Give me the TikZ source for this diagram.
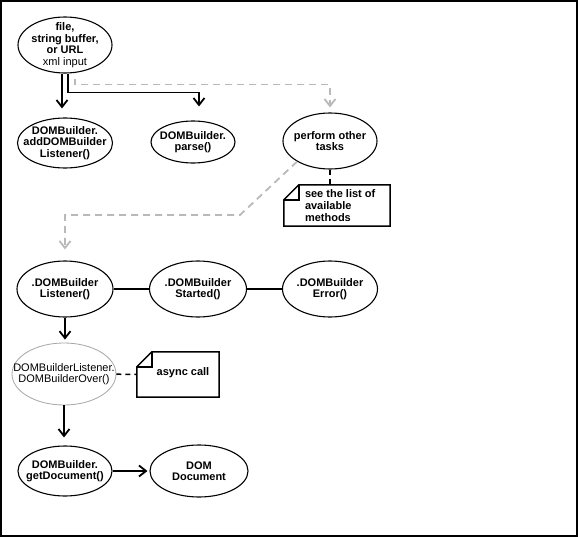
\documentclass[tikz,border=0pt]{standalone}
\usepackage{fontspec}
\setmainfont{Liberation Sans}
\usetikzlibrary{shapes.geometric,arrows.meta}

\begin{document}
\begin{tikzpicture}[x=1pt,y=-1pt,>={Straight Barb[length=7pt,width=11pt]},
  main node/.style={ellipse,draw,line width=1.1pt,inner sep=0pt},
  node text/.style={inner sep=0pt,align=center,font=\bfseries\fontsize{11}{11.5}\selectfont},
  note node/.style={inner sep=0pt},
  note text/.style={inner sep=0pt,align=left,font=\bfseries\fontsize{11}{12}\selectfont}]
\tikzstyle{flow edge} = [draw,line width=1.8pt,->]
\tikzstyle{other edge} = [draw,line width=1.8pt,->,gray!55,dash pattern=on 7pt off 5pt]
\tikzstyle{note edge} = [draw,line width=1.5pt]

\useasboundingbox (0,0) rectangle (579,538);
\draw[line width=1.6pt] (1,1) rectangle (577,536);

\node[main node,minimum width=94pt,minimum height=56pt,
  label={[node text]center:{file,\\string buffer,\\or URL\\{\mdseries xml input}}}] (input) at (65,45) {};

\node[main node,minimum width=95pt,minimum height=50pt,
  label={[node text]center:{DOMBuilder.\\addDOMBuilder\\Listener()}}] (addlistener) at (65,143) {};
\node[main node,minimum width=84pt,minimum height=42pt,
  label={[node text]center:{DOMBuilder.\\parse()}}] (parse) at (193,142) {};
\node[main node,minimum width=94pt,minimum height=56pt,
  label={[node text]center:{perform other\\tasks}}] (perform) at (330,141) {};

% note
\node[note node,minimum width=106pt,minimum height=41pt] (listnote) at (337,205.5) {};
\draw[note edge] ([xshift=15pt]listnote.north west) -- (listnote.north east) -- (listnote.south east)
  -- (listnote.south west) -- ([yshift=-15pt]listnote.north west) -- cycle;
\draw[note edge] ([yshift=-15pt]listnote.north west) -- ([shift={(15pt,-15pt)}]listnote.north west)
  -- ([xshift=15pt]listnote.north west);
\node[note text,anchor=north west] at ([shift={(21pt,-5pt)}]listnote.north west) {see the list of\\available\\methods};

\node[main node,minimum width=96pt,minimum height=56pt,
  label={[node text]center:{.DOMBuilder\\Listener()}}] (listener) at (65,289) {};
\node[main node,minimum width=97pt,minimum height=56pt,
  label={[node text]center:{.DOMBuilder\\Started()}}] (started) at (198,289) {};
\node[main node,minimum width=95pt,minimum height=56pt,
  label={[node text]center:{.DOMBuilder\\Error()}}] (error) at (330,289) {};

\node[main node,draw=gray!70,line width=0.8pt,minimum width=104pt,minimum height=62pt,
  label={[node text,font=\fontsize{11}{11.5}\selectfont]center:{DOMBuilderListener.\\DOMBuilderOver()}}] (over) at (64,374) {};

% note
\node[note node,minimum width=82pt,minimum height=45pt] (asyncnote) at (178,374.5) {};
\draw[note edge] ([xshift=15pt]asyncnote.north west) -- (asyncnote.north east) -- (asyncnote.south east)
  -- (asyncnote.south west) -- ([yshift=-15pt]asyncnote.north west) -- cycle;
\draw[note edge] ([yshift=-15pt]asyncnote.north west) -- ([shift={(15pt,-15pt)}]asyncnote.north west)
  -- ([xshift=15pt]asyncnote.north west);
\node[note text] at (183,373) {async call};

\node[main node,minimum width=94pt,minimum height=50pt,
  label={[node text]center:{DOMBuilder.\\getDocument()}}] (getdoc) at (65,471) {};
\node[main node,minimum width=98pt,minimum height=52pt,
  label={[node text]center:{DOM\\Document}}] (domdoc) at (199,471) {};

\coordinate (bend) at (240,215);

\draw[flow edge,shorten >=9pt] ([xshift=-3pt]input.south) -- ([xshift=-3pt]addlistener.north);
\draw[flow edge,shorten >=14pt] ([xshift=3pt]input.south) -- ++(0,19) -| ([xshift=6pt]parse.north);
\draw[other edge,shorten >=5pt] ([shift={(10,5)}]input.south) -- ++(0,6) -| (perform.north);
\draw[other edge,shorten >=11pt] (perform.212) -- (bend) -| (listener.north);
\draw[note edge,dash pattern=on 5pt off 4pt] (perform.south) -- (perform.south |- listnote.north);

\draw[line width=1.5pt] (listener) -- (started) -- (error);
\draw[flow edge,shorten >=3pt] (listener.south) -- (listener.south |- over.north);
\draw[note edge,dash pattern=on 5pt off 4pt] (over) -- (asyncnote);
\draw[flow edge,shorten >=8pt] (over.south) -- (over.south |- getdoc.north);
\draw[flow edge,shorten >=2pt] (getdoc) -- (domdoc);
\end{tikzpicture}
\end{document}
